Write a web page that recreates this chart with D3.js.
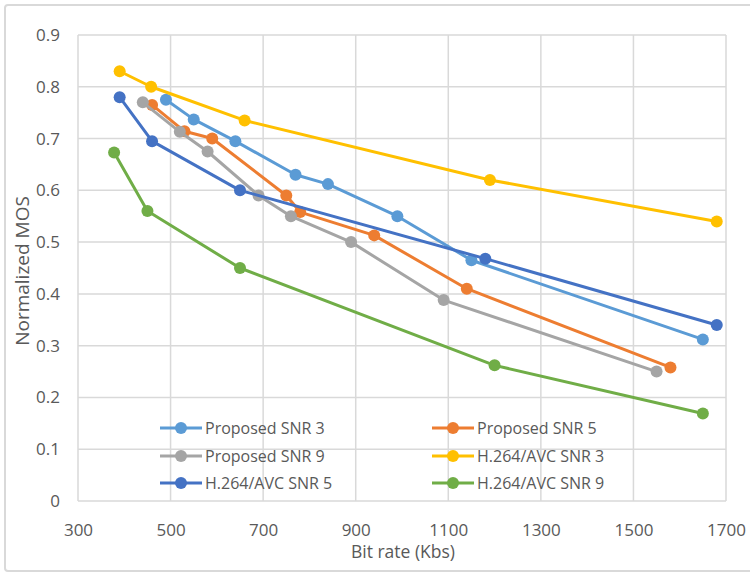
<!DOCTYPE html>
<html><head><meta charset="utf-8">
<script src="https://cdn.jsdelivr.net/npm/d3@7"></script>
<style>body{margin:0;background:#fff}svg{display:block}text{font-family:'Open Sans',sans-serif;fill:#595959}</style>
</head><body>
<svg id="c" width="750" height="573"></svg>
<script>
const seriesNames = ["Proposed SNR 3","Proposed SNR 5","Proposed SNR 9","H.264/AVC SNR 3","H.264/AVC SNR 5","H.264/AVC SNR 9"];
const colors = ["#5B9BD5","#ED7D31","#A5A5A5","#FFC000","#4472C4","#70AD47"];
const proposedSNR3 = [[490,0.775],[550,0.737],[640,0.695],[770,0.63],[840,0.612],[990,0.55],[1150,0.465],[1650,0.312]];
const proposedSNR5 = [[460,0.765],[530,0.714],[590,0.70],[750,0.59],[780,0.558],[940,0.513],[1140,0.41],[1580,0.258]];
const proposedSNR9 = [[440,0.77],[520,0.713],[580,0.675],[690,0.59],[760,0.55],[890,0.50],[1090,0.388],[1550,0.25]];
const avcSNR3 = [[390,0.83],[458,0.80],[660,0.735],[1190,0.62],[1680,0.54]];
const avcSNR5 = [[390,0.78],[460,0.695],[650,0.60],[1180,0.468],[1680,0.34]];
const avcSNR9 = [[378,0.673],[450,0.56],[650,0.45],[1200,0.262],[1650,0.169]];
const xTicks = [300,500,700,900,1100,1300,1500,1700];
const yTicks = [0,0.1,0.2,0.3,0.4,0.5,0.6,0.7,0.8,0.9];
const allSeries = [proposedSNR3,proposedSNR5,proposedSNR9,avcSNR3,avcSNR5,avcSNR9];
const svg = d3.select("#c");
svg.append("rect").attr("x",5).attr("y",5).attr("width",770).attr("height",566)
  .attr("fill","none").attr("stroke","#d9d9d9").attr("stroke-width",2).attr("rx",3);
const x = d3.scaleLinear().domain([300,1700]).range([78,726]);
const y = d3.scaleLinear().domain([0,0.9]).range([501,35]);
const g = svg.append("g");
g.selectAll(".vg").data(xTicks).join("line").attr("x1",d=>x(d)).attr("x2",d=>x(d))
  .attr("y1",y(0)).attr("y2",y(0.9)).attr("stroke","#d9d9d9").attr("stroke-width",1.5);
g.selectAll(".hg").data(yTicks).join("line").attr("y1",d=>y(d)).attr("y2",d=>y(d))
  .attr("x1",x(300)).attr("x2",x(1700)).attr("stroke","#d9d9d9").attr("stroke-width",1.5);
const xa = svg.append("g").attr("transform",`translate(0,${y(0)})`)
  .call(d3.axisBottom(x).tickValues(xTicks).tickSize(0).tickPadding(23).tickFormat(d3.format("d")));
xa.select(".domain").remove();
xa.selectAll("text").style("font-size","17px").attr("fill","#595959");
const ya = svg.append("g").attr("transform",`translate(${x(300)},0)`)
  .call(d3.axisLeft(y).tickValues(yTicks).tickSize(0).tickPadding(18).tickFormat(d=>d===0?"0":d3.format(".1f")(d)));
ya.select(".domain").remove();
ya.selectAll("text").style("font-size","17px").attr("fill","#595959");
svg.append("text").attr("x",403).attr("y",558).attr("text-anchor","middle").style("font-size","17.5px").text("Bit rate (Kbs)");
svg.append("text").attr("transform","translate(29,271) rotate(-90)").attr("text-anchor","middle").style("font-size","19px").text("Normalized MOS");
const line = d3.line().x(d=>x(d[0])).y(d=>y(d[1]));
allSeries.forEach((s,i)=>{
  const sg = svg.append("g");
  sg.append("path").datum(s).attr("d",line).attr("fill","none").attr("stroke",colors[i]).attr("stroke-width",3).attr("stroke-linejoin","round");
  sg.selectAll("circle").data(s).join("circle").attr("cx",d=>x(d[0])).attr("cy",d=>y(d[1])).attr("r",6).attr("fill",colors[i]);
});
const legX = [160,432], legY = [428,456,483];
seriesNames.forEach((n,i)=>{
  const lx = legX[i%2], ly = legY[Math.floor(i/2)];
  const lg = svg.append("g");
  lg.append("line").attr("x1",lx).attr("x2",lx+42).attr("y1",ly).attr("y2",ly).attr("stroke",colors[i]).attr("stroke-width",3);
  lg.append("circle").attr("cx",lx+21).attr("cy",ly).attr("r",6).attr("fill",colors[i]);
  lg.append("text").attr("x",lx+45).attr("y",ly+6).style("font-size","16px").text(n);
});
</script>
</body></html>
